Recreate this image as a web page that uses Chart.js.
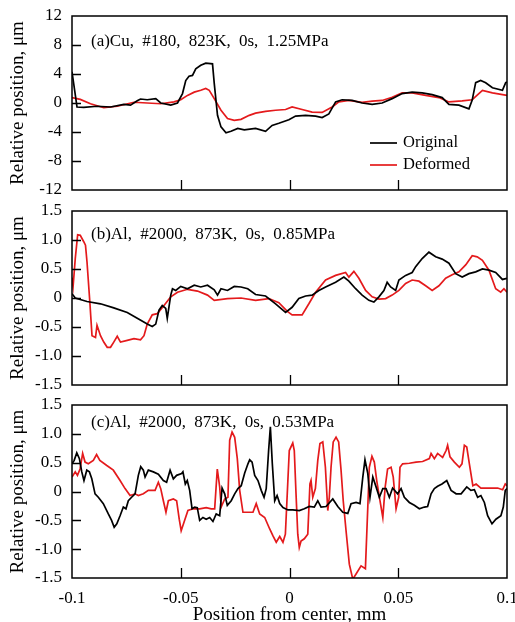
<!DOCTYPE html>
<html>
<head>
<meta charset="utf-8">
<script src="https://cdn.jsdelivr.net/npm/chart.js@4"></script>
<style>
  body { margin: 0; background: #fff; }
  #page { position: relative; width: 515px; height: 622px; overflow: hidden; }
  canvas { position: absolute; left: 0; }
</style>
</head>
<body>
<div id="page">
  <canvas id="chart_a" width="515" height="200" style="top:0px"></canvas>
  <canvas id="chart_b" width="515" height="200" style="top:195px"></canvas>
  <canvas id="chart_c" width="515" height="240" style="top:390px"></canvas>
</div>
<script>
'use strict'

//Data ---------------------------------------------------------
const seriesNames = ['Original', 'Deformed'];
const panelTitles = [
  '(a)Cu, #180, 823K, 0s, 1.25MPa',
  '(b)Al, #2000, 873K, 0s, 0.85MPa',
  '(c)Al, #2000, 873K, 0s, 0.53MPa'
];
const xTickValues = [-0.1, -0.05, 0, 0.05, 0.1];
const xTickLabels = ['-0.1', '-0.05', '0', '0.05', '0.1'];
const yTickValuesA = [-12, -8, -4, 0, 4, 8, 12];
const yTickLabelsA = ['-12', '-8', '-4', '0', '4', '8', '12'];
const yTickValuesBC = [-1.5, -1, -0.5, 0, 0.5, 1, 1.5];
const yTickLabelsBC = ['-1.5', '-1.0', '-0.5', '0', '0.5', '1.0', '1.5'];

// (a) Cu
const origAx = [-0.1, -0.0977, -0.0946, -0.0885, -0.0823, -0.0762, -0.0731, -0.07, -0.0685, -0.0654,
  -0.0615, -0.0592, -0.0546, -0.0515, -0.0492, -0.0477, -0.0462, -0.0446, -0.0431, -0.0408,
  -0.0385, -0.0354, -0.0346, -0.0331, -0.0315, -0.0292, -0.0269, -0.0238, -0.0208, -0.0156,
  -0.011, -0.008, -0.0049, -0.0003, 0.0028, 0.0074, 0.012, 0.015, 0.0181, 0.0212,
  0.0242, 0.0288, 0.0334, 0.038, 0.0426, 0.0472, 0.0518, 0.0564, 0.061, 0.0656,
  0.0702, 0.0733, 0.0779, 0.0825, 0.084, 0.0856, 0.0879, 0.0902, 0.0933, 0.0979,
  0.0994, 0.1];
const origAy = [4.3, -0.55, -0.6, -0.45, -0.55, -0.2, -0.3, 0.3, 0.55, 0.45,
  0.6, 0, -0.3, 0, 1.3, 3.1, 3.7, 3.8, 4.7, 5.2,
  5.5, 5.4, 2.7, -1.7, -3.3, -4.1, -3.9, -3.5, -3.7, -3.5,
  -3.9, -3.1, -2.8, -2.3, -1.8, -1.7, -1.8, -2.0, -1.5, 0.15,
  0.45, 0.35, 0, -0.2, 0, 0.6, 1.3, 1.5, 1.4, 1.15,
  0.75, -0.2, -0.3, -0.8, 0.4, 2.8, 3.1, 2.8, 2.1, 1.75,
  2.8, 2.9];
const defAx = [-0.1, -0.0962, -0.0915, -0.0854, -0.0792, -0.0715, -0.0654, -0.0592, -0.0531, -0.05,
  -0.0469, -0.0438, -0.0408, -0.0385, -0.0369, -0.0346, -0.0315, -0.0285, -0.0254, -0.0223,
  -0.0185, -0.0156, -0.011, -0.0064, -0.0018, 0.0012, 0.0058, 0.0104, 0.015, 0.0196,
  0.0227, 0.0273, 0.0334, 0.038, 0.0426, 0.0472, 0.0518, 0.0564, 0.0626, 0.0687,
  0.0733, 0.0794, 0.084, 0.0887, 0.0933, 0.1];
const defAy = [0.75, 0.5, -0.1, -0.65, -0.45, 0.1, 0, -0.1, 0.15, 0.45,
  1.05, 1.5, 1.75, 2.0, 1.75, 0.6, -1.0, -2.15, -2.4, -2.25,
  -1.7, -1.4, -1.15, -1.0, -0.9, -0.55, -0.9, -1.25, -1.3, -0.55,
  0.15, 0.35, 0.1, 0.25, 0.35, 0.8, 1.4, 1.4, 1.05, 0.75,
  0.15, 0.3, 0.45, 1.75, 1.4, 1.05];

// (b) Al, 0.85MPa
const origBx = [-0.1, -0.0985, -0.0931, -0.0869, -0.0808, -0.0746, -0.07, -0.0654, -0.0631, -0.0615,
  -0.06, -0.0585, -0.0569, -0.0562, -0.0546, -0.0538, -0.0523, -0.05, -0.0469, -0.0438,
  -0.0408, -0.0377, -0.0346, -0.0331, -0.0315, -0.0285, -0.0254, -0.0223, -0.0192, -0.0156,
  -0.011, -0.0064, -0.0018, 0.0012, 0.0043, 0.0074, 0.0104, 0.0135, 0.0166, 0.0212,
  0.025, 0.0273, 0.0304, 0.0334, 0.0365, 0.0388, 0.0411, 0.0434, 0.0449, 0.0465,
  0.0488, 0.0503, 0.0534, 0.0564, 0.058, 0.061, 0.0641, 0.0672, 0.0702, 0.0733,
  0.0764, 0.0794, 0.0825, 0.0856, 0.0887, 0.0917, 0.0948, 0.0979, 0.1];
const origBy = [0.075, 0, -0.06, -0.1, -0.17, -0.25, -0.35, -0.45, -0.49, -0.45,
  -0.21, -0.13, -0.18, -0.35, 0.05, 0.16, 0.13, 0.2, 0.16, 0.22,
  0.19, 0.22, 0.14, 0.05, 0.16, 0.13, 0.2, 0.19, 0.16, 0.06,
  0.035, -0.1, -0.25, -0.16, -0.01, 0.035, 0.05, 0.13, 0.19, 0.27,
  0.36, 0.29, 0.16, 0.05, -0.04, -0.07, 0.02, 0.13, 0.27, 0.19,
  0.13, 0.31, 0.39, 0.44, 0.54, 0.68, 0.79, 0.71, 0.67, 0.6,
  0.42, 0.36, 0.42, 0.45, 0.5, 0.48, 0.44, 0.32, 0.34];
const defBx = [-0.1, -0.0995, -0.0985, -0.0974, -0.0962, -0.0946, -0.0938, -0.0931, -0.0918, -0.0908,
  -0.0892, -0.0885, -0.0869, -0.0854, -0.0838, -0.0823, -0.0808, -0.0792, -0.0777, -0.0746,
  -0.0715, -0.0685, -0.0669, -0.0654, -0.0631, -0.0608, -0.0577, -0.0546, -0.0515, -0.0469,
  -0.0423, -0.0377, -0.0346, -0.0285, -0.0223, -0.0156, -0.0095, -0.0049, -0.001, 0.0012,
  0.0058, 0.0089, 0.012, 0.0166, 0.0212, 0.0258, 0.0273, 0.0296, 0.0319, 0.035,
  0.038, 0.0411, 0.0442, 0.0472, 0.0503, 0.0534, 0.0564, 0.0595, 0.0626, 0.0656,
  0.0687, 0.0718, 0.0748, 0.0779, 0.081, 0.084, 0.0863, 0.0887, 0.0917, 0.0948,
  0.0971, 0.0986, 0.1];
const defBy = [0.35, 0.2, 0.68, 1.09, 1.08, 0.97, 0.91, 0.62, -0.07, -0.65,
  -0.68, -0.47, -0.65, -0.76, -0.85, -0.85, -0.76, -0.66, -0.76, -0.73,
  -0.7, -0.72, -0.65, -0.45, -0.29, -0.27, -0.13, 0.02, 0.1, 0.15,
  0.12, 0.05, -0.04, -0.01, 0, -0.04, -0.01, -0.08, -0.23, -0.29,
  -0.29, -0.1, 0.1, 0.31, 0.39, 0.44, 0.36, 0.46, 0.34, 0.13,
  0.02, -0.02, -0.01, 0.05, 0.13, 0.25, 0.31, 0.29, 0.21, 0.13,
  0.21, 0.34, 0.4, 0.45, 0.57, 0.73, 0.71, 0.65, 0.48, 0.16,
  0.1, 0.16, 0.1];

// (c) Al, 0.53MPa
const origCx = [-0.1, -0.099, -0.0978, -0.0966, -0.0955, -0.0945, -0.0932, -0.092, -0.0909, -0.0894,
  -0.0879, -0.0856, -0.0833, -0.0818, -0.0806, -0.0794, -0.0779, -0.0764, -0.0752, -0.0741,
  -0.0726, -0.071, -0.0695, -0.0684, -0.0672, -0.0664, -0.0649, -0.0626, -0.0603, -0.058,
  -0.0565, -0.0549, -0.0534, -0.0519, -0.0496, -0.049, -0.0479, -0.047, -0.0459, -0.0448,
  -0.0436, -0.0424, -0.0413, -0.0398, -0.0383, -0.0367, -0.0352, -0.0337, -0.0321, -0.031,
  -0.0298, -0.0286, -0.0268, -0.0252, -0.0237, -0.0222, -0.0206, -0.0191, -0.0183, -0.0172,
  -0.016, -0.0145, -0.013, -0.0117, -0.0107, -0.0096, -0.0088, -0.0079, -0.0068, -0.0057,
  -0.0045, -0.003, -0.0007, 0.0015, 0.0045, 0.0068, 0.0091, 0.0114, 0.013, 0.0145,
  0.0168, 0.0199, 0.0222, 0.0245, 0.0268, 0.0283, 0.0306, 0.0324, 0.0337, 0.0347,
  0.036, 0.037, 0.0383, 0.0398, 0.0413, 0.0429, 0.0444, 0.0459, 0.0474, 0.0497,
  0.0513, 0.0528, 0.0551, 0.0574, 0.0597, 0.062, 0.0635, 0.0651, 0.0666, 0.0681,
  0.0701, 0.0723, 0.0743, 0.0766, 0.0789, 0.0815, 0.0834, 0.085, 0.0865, 0.088,
  0.0896, 0.0911, 0.0931, 0.0949, 0.0972, 0.0983, 0.0992, 0.1];
const origCy = [0.48, 0.54, 0.67, 0.57, 0.34, 0.19, 0.37, 0.34, 0.22, -0.04,
  -0.1, -0.21, -0.39, -0.5, -0.62, -0.56, -0.42, -0.27, -0.3, -0.16,
  -0.1, -0.04, 0.28, 0.43, 0.37, 0.25, 0.37, 0.34, 0.3, 0.19,
  0.16, 0.37, 0.22, 0.28, 0.31, 0.34, 0.13, 0.19, 0.02, -0.3,
  -0.27, -0.28, -0.5, -0.45, -0.48, -0.45, -0.52, -0.39, -0.42, 0.06,
  -0.04, -0.24, -0.16, -0.04, 0.05, 0.1, 0.32, 0.48, 0.55, 0.51,
  0.28, 0.19, 0.02, -0.1, 0.05, 0.71, 1.12, 0.48, -0.16, -0.07,
  -0.21, -0.28, -0.32, -0.32, -0.33, -0.3, -0.26, -0.27, -0.16, -0.27,
  -0.26, -0.13, -0.26, -0.36, -0.38, -0.21, -0.19, -0.21, 0.25, 0.55,
  0.31, -0.1, 0.25, 0.08, -0.1, 0.05, 0.05, -0.1, 0.06, -0.04,
  0.05, -0.1, -0.19, -0.24, -0.3, -0.27, -0.26, -0.04, 0.05, 0.09,
  0.13, 0.19, 0.02, -0.04, -0.04, 0.08, 0.02, 0.03, -0.1, -0.07,
  -0.19, -0.42, -0.56, -0.48, -0.42, -0.27, 0.02, 0.05];
const defCx = [-0.1, -0.0985, -0.0975, -0.0963, -0.0951, -0.094, -0.0925, -0.0902, -0.0887, -0.0872,
  -0.084, -0.081, -0.0779, -0.0756, -0.0733, -0.071, -0.0695, -0.0672, -0.0649, -0.0618,
  -0.0603, -0.0592, -0.058, -0.0568, -0.0557, -0.0534, -0.0519, -0.0507, -0.0498, -0.0482,
  -0.0467, -0.0444, -0.0413, -0.0383, -0.036, -0.0344, -0.0332, -0.0321, -0.0314, -0.0298,
  -0.0283, -0.0275, -0.0264, -0.0252, -0.024, -0.0229, -0.0214, -0.0191, -0.0168, -0.0153,
  -0.0137, -0.0114, -0.0091, -0.0076, -0.0061, -0.0045, -0.003, -0.0019, -0.0001, 0.0015,
  0.0022, 0.003, 0.0038, 0.0045, 0.0053, 0.0068, 0.0084, 0.0094, 0.0099, 0.0107,
  0.0119, 0.013, 0.014, 0.0153, 0.0165, 0.0176, 0.0183, 0.0191, 0.0201, 0.0214,
  0.0226, 0.0237, 0.0247, 0.026, 0.0275, 0.0291, 0.0306, 0.0329, 0.0349, 0.036,
  0.0367, 0.0379, 0.039, 0.0401, 0.0416, 0.0429, 0.044, 0.0451, 0.0467, 0.0477,
  0.049, 0.0502, 0.0508, 0.052, 0.0551, 0.0582, 0.0612, 0.0643, 0.0651, 0.0666,
  0.0681, 0.0704, 0.072, 0.0727, 0.0738, 0.0758, 0.0781, 0.0793, 0.0804, 0.0815,
  0.0827, 0.0843, 0.0858, 0.088, 0.0919, 0.0957, 0.098, 0.0992, 0.1];
const defCy = [0.25, 0.34, 0.28, 0.39, 0.66, 0.51, 0.48, 0.54, 0.64, 0.54,
  0.45, 0.37, 0.19, 0.05, -0.07, -0.04, -0.07, -0.04, 0.02, 0.02,
  0.16, 0.05, -0.16, -0.36, -0.16, -0.13, -0.16, -0.48, -0.68, -0.5,
  -0.33, -0.3, -0.3, -0.28, -0.3, -0.3, 0.39, 0.08, -0.27, -0.13,
  -0.1, 0.89, 1.03, 0.94, 0.57, 0.02, -0.36, -0.36, -0.36, -0.21,
  -0.39, -0.45, -0.65, -0.77, -0.88, -0.78, -0.88, -0.74, 0.71, 0.84,
  0.71, -0.04, -0.74, -0.97, -0.86, -0.82, -0.74, 0.13, 0.19, -0.1,
  0.05, 0.54, 0.83, 0.86, 0.42, -0.33, -0.1, 0.42, 0.86, 0.94,
  0.86, 0.37, -0.16, -0.68, -1.26, -1.52, -1.43, -1.29, -1.34, -0.27,
  0.42, 0.61, 0.51, 0.19, -0.16, -0.45, 0.08, 0.39, 0.42, 0.25,
  -0.3, -0.1, 0.42, 0.48, 0.49, 0.51, 0.52, 0.57, 0.66, 0.57,
  0.66, 0.59, 0.71, 0.8, 0.6, 0.51, 0.42, 0.48, 0.8, 0.77,
  0.48, 0.1, 0.13, 0.06, 0.06, 0.06, 0.03, 0.13, 0.1];

//Styles ---------------------------------------------------------
const lineColors = ['#000000', '#e41a1c'];
Chart.defaults.font.family = "'Liberation Serif', 'Times New Roman', serif";
Chart.defaults.font.size = 17;
Chart.defaults.color = '#000';

//Plugin: box, inward ticks, panel label, legend ------------------
const panelDecor = {
  id: 'panelDecor',
  afterDraw(chart, args, opts) {
    const ctx = chart.ctx;
    const area = chart.chartArea;
    const xScale = chart.scales.x;
    const yScale = chart.scales.y;
    ctx.save();
    ctx.strokeStyle = '#000';
    ctx.lineWidth = 1.5;
    ctx.strokeRect(area.left, area.top, area.right - area.left, area.bottom - area.top);

    ctx.lineWidth = 1.3;
    ctx.beginPath();
    opts.yTicks.forEach(function (v) {
      if (v > yScale.min && v < yScale.max) {
        const py = Math.round(yScale.getPixelForValue(v)) + 0.5;
        ctx.moveTo(area.left, py);
        ctx.lineTo(area.left + 9, py);
      }
    });
    xTickValues.forEach(function (v) {
      if (v > xScale.min && v < xScale.max) {
        const px = Math.round(xScale.getPixelForValue(v)) + 0.5;
        ctx.moveTo(px, area.bottom);
        ctx.lineTo(px, area.bottom - 10);
      }
    });
    ctx.stroke();

    ctx.fillStyle = '#000';
    ctx.font = "17px 'Liberation Serif'";
    ctx.textBaseline = 'middle';
    ctx.textAlign = 'left';
    ctx.wordSpacing = '4px';
    ctx.fillText(opts.title, area.left + 19, area.top + opts.titleOffset);
    ctx.wordSpacing = '0px';

    if (opts.legend) {
      ctx.font = "16.5px 'Liberation Serif'";
      chart.data.datasets.forEach(function (ds, i) {
        const ly = area.top + 127 + i * 22;
        ctx.strokeStyle = ds.borderColor;
        ctx.lineWidth = 1.7;
        ctx.beginPath();
        ctx.moveTo(area.left + 298, ly);
        ctx.lineTo(area.left + 325, ly);
        ctx.stroke();
        ctx.fillText(ds.label, area.left + 331, ly);
      });
    }
    ctx.restore();
  }
};

//Functions ---------------------------------------------------------
function toPoints(xs, ys) {
  return xs.map(function (x, i) { return { x: x, y: ys[i] }; });
}

function makePanel(canvasId, panel) {
  const ctx = document.getElementById(canvasId).getContext('2d');
  return new Chart(ctx, {
    type: 'line',
    data: {
      datasets: [
        { label: seriesNames[0], data: toPoints(panel.origX, panel.origY), borderColor: lineColors[0] },
        { label: seriesNames[1], data: toPoints(panel.defX, panel.defY), borderColor: lineColors[1] }
      ]
    },
    options: {
      responsive: false,
      animation: false,
      devicePixelRatio: 1,
      layout: { padding: { top: panel.padTop, right: 8, bottom: panel.padBottom, left: 0 } },
      elements: {
        point: { radius: 0 },
        line: { borderWidth: 1.7, tension: 0 }
      },
      plugins: {
        legend: { display: false },
        tooltip: { enabled: false },
        panelDecor: { title: panel.title, titleOffset: panel.titleOffset, legend: panel.legend, yTicks: panel.yTicks }
      },
      scales: {
        x: {
          type: 'linear',
          min: -0.1,
          max: 0.1,
          display: panel.showX,
          afterBuildTicks: function (scale) { scale.ticks = xTickValues.map(function (v) { return { value: v }; }); },
          afterFit: function (scale) {
            if (panel.showX) scale.height = 52;
            scale.paddingLeft = 0;
            scale.paddingRight = 0;
          },
          grid: { display: false, drawTicks: false },
          border: { display: false },
          ticks: {
            padding: 10,
            autoSkip: false,
            maxRotation: 0,
            callback: function (v, i) { return xTickLabels[i]; }
          },
          title: { display: true, text: 'Position from center, mm', font: { size: 19 }, padding: { top: 0, bottom: 4 } }
        },
        y: {
          min: panel.yTicks[0],
          max: panel.yTicks[panel.yTicks.length - 1],
          afterBuildTicks: function (scale) { scale.ticks = panel.yTicks.map(function (v) { return { value: v }; }); },
          afterFit: function (scale) {
            scale.width = 72;
            scale.paddingTop = 0;
            scale.paddingBottom = 0;
          },
          grid: { display: false, drawTicks: false },
          border: { display: false },
          ticks: {
            padding: 10,
            autoSkip: false,
            callback: function (v, i) { return panel.yLabels[i]; }
          },
          title: { display: true, text: 'Relative position, μm', font: { size: 19 }, padding: { top: 7, bottom: 0 } }
        }
      }
    },
    plugins: [panelDecor]
  });
}

//Call Functions ---------------------------------------------------------
makePanel('chart_a', {
  title: panelTitles[0], titleOffset: 26, legend: true, showX: false, padTop: 16, padBottom: 10,
  origX: origAx, origY: origAy, defX: defAx, defY: defAy,
  yTicks: yTickValuesA, yLabels: yTickLabelsA
});
makePanel('chart_b', {
  title: panelTitles[1], titleOffset: 24, legend: false, showX: false, padTop: 16, padBottom: 10,
  origX: origBx, origY: origBy, defX: defBx, defY: defBy,
  yTicks: yTickValuesBC, yLabels: yTickLabelsBC
});
makePanel('chart_c', {
  title: panelTitles[2], titleOffset: 18, legend: false, showX: true, padTop: 15, padBottom: 0,
  origX: origCx, origY: origCy, defX: defCx, defY: defCy,
  yTicks: yTickValuesBC, yLabels: yTickLabelsBC
});
</script>
</body>
</html>
